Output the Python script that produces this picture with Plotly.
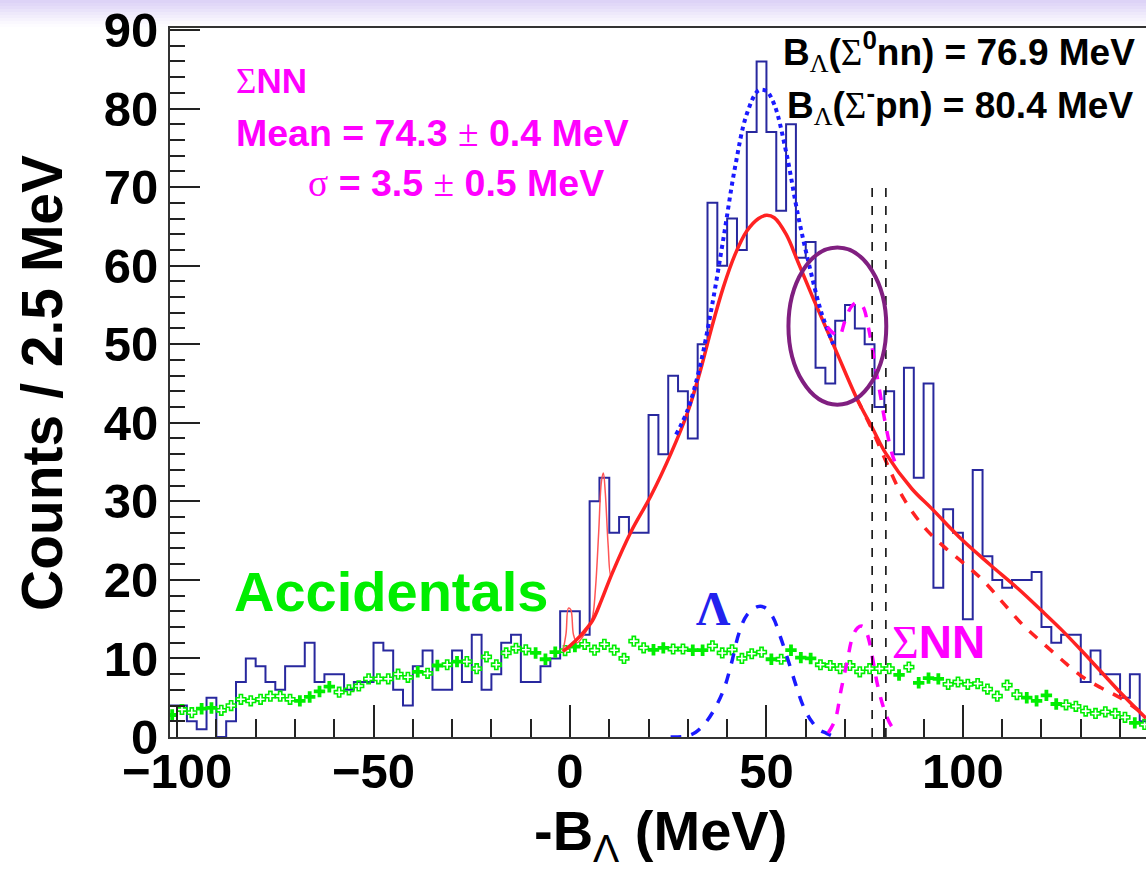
import plotly.graph_objects as go

# ---------------- data ----------------
BIN_LO = -102.5
BIN_W = 2.5
counts = [4, 4, 2, 1, 5, 0, 2, 7, 10, 9,
          7, 6, 9, 9, 12, 7, 8, 8, 6, 7,
          7, 12, 11, 6, 4, 9, 11, 6, 6, 11,
          7, 13, 6, 8, 12, 13, 7, 7, 9, 10,
          16, 16, 13, 30, 33, 26, 28, 26, 26, 41,
          36, 46, 44, 38, 50, 68, 60, 66, 62, 77,
          86, 77, 67, 78, 61, 63, 47, 45, 53, 55,
          52, 50, 42, 44, 36, 47, 33, 45, 19, 29,
          26, 15, 34, 23, 20, 19, 20, 20, 21, 14,
          12, 13, 13, 7, 11, 8, 8, 5, 8, 2]

acc_values = [2.8, 3.5, 3.1, 3.6, 3.7, 3.4, 4.0, 4.8, 4.6, 4.8,
              5.2, 5.2, 4.8, 4.6, 5.1, 5.8, 6.4, 5.7, 6.0, 6.5,
              7.4, 7.4, 7.4, 8.0, 7.6, 8.3, 8.1, 9.1, 9.2, 9.6,
              9.6, 8.7, 10.2, 9.2, 10.7, 11.3, 11.1, 10.7, 9.9, 10.8,
              11.0, 11.5, 11.8, 11.05, 11.8, 11.05, 10.0, 12.2, 11.35, 11.1,
              11.35, 11.2, 11.2, 11.05, 11.05, 11.6, 10.7, 11.1, 10.0, 10.6,
              10.8, 9.9, 9.9, 11.05, 10.1, 10.0, 9.2, 9.1, 8.7, 9.1,
              8.3, 8.7, 8.7, 8.7, 7.9, 8.9, 6.9, 7.5, 7.4, 6.7,
              7.0, 6.7, 6.8, 6.1, 5.2, 6.6, 5.4, 5.0, 4.6, 5.3,
              4.2, 4.1, 3.9, 3.3, 3.0, 3.2, 3.0, 2.5, 1.8, 1.6]
acc_kind = ("pooppooooo" "oooppppooo" "ooooopopop" "oooooooppp" "opooooooop"
            "pooppooooo" "opopppoooo" "oooopopppo" "oooooooppp" "pooooooopo")

red_x = [-1.8, 0, 2.5, 5.7, 8, 10.7, 15.6, 20.6, 25.7, 30, 33, 36, 39, 42, 45, 48, 50,
         52, 55, 58, 62, 67.5, 73, 77, 80.5, 87, 92, 100, 107, 114, 120, 125, 130, 135,
         140, 146.6]
red_y = [10.9, 11.6, 12.8, 14.8, 17.4, 20.8, 26.2, 30.7, 36.1, 41.4, 46.3, 52.0, 57.2,
         61.4, 64.4, 66.0, 66.4, 66.1, 64.0, 60.5, 55.7, 49.4, 43.1, 39.3, 36.0, 31.6,
         29.1, 25.0, 21.9, 18.9, 16.1, 13.7, 11.1, 8.4, 5.7, 2.4]

red_dash_x = [73, 77, 80.5, 85, 90, 95, 100, 105, 110, 115, 120, 125, 130, 135, 140, 145, 146.6]
red_dash_y = [43.1, 39.0, 35.0, 30.3, 26.8, 24.3, 22.2, 20.0, 17.2, 14.4, 12.1, 9.9, 7.8,
              6.3, 5.0, 3.3, 2.8]

spike_x = [-1.8, -1.0, -0.4, 0.2, 0.9, 1.8, 3.0, 4.5, 5.7, 6.5, 7.3, 8.0, 8.5, 9.0, 9.7,
           10.4, 11.2]
spike_y = [10.9, 13.2, 16.4, 16.2, 13.0, 12.0, 12.6, 13.8, 15.2, 19.0, 26.0, 32.5, 33.6,
           31.0, 24.5, 20.5, 21.4]

blue_fit_x = [27, 30, 33, 36, 39, 42, 45, 48, 50, 52, 55, 58, 61, 64, 67]
blue_fit_y = [38.5, 41.7, 47.0, 54.5, 63.3, 72.5, 79.3, 82.3, 82.2, 80.5, 74.5, 66.5,
              59.8, 54.0, 50.0]

lam_x = [25.6, 29.5, 32, 34.3, 36.5, 39.1, 41, 43, 45, 47.8, 49.5, 51.6, 53.5, 55.5, 57.5,
         59.4, 61.5, 63.5, 65.2, 67, 69]
lam_y = [0, 0.1, 0.6, 1.7, 3.3, 6.0, 9.2, 13.2, 15.5, 16.6, 16.5, 15.3, 12.8, 9.8, 6.6,
         3.9, 2.0, 0.9, 0.5, 0.1, 0]

snn_fit_x = [65.5, 67, 68.5, 70, 71.5, 73, 74.5, 76, 77.5, 79, 80.5, 82, 83.5]
snn_fit_y = [52.2, 51.4, 51.0, 53.0, 54.7, 55.3, 54.8, 52.0, 47.8, 43.5, 39.3, 36.0, 34.0]

snn_x = [65.7, 67.5, 69, 70.5, 71.9, 73.2, 74.4, 75.4, 76.3, 77.2, 78.2, 79.4, 80.6, 81.8, 83]
snn_y = [0.5, 2.2, 6.0, 9.5, 12.7, 13.9, 14.1, 13.4, 11.9, 9.5, 6.8, 4.4, 2.6, 1.4, 0.7]

thresholds = [76.9, 80.4]
threshold_top = 70

x_ticks = [-100, -50, 0, 50, 100]
y_ticks = [0, 10, 20, 30, 40, 50, 60, 70, 80, 90]

# ---------------- styles ----------------
SANS = "Liberation Sans"
SERIF = "Liberation Serif"
GREEN = "#00ee00"
RED = "#ff2222"
MAG = "#ff00ff"


def serif(t):
    return '<span style="font-family:%s;font-weight:normal">%s</span>' % (SERIF, t)


fig = go.Figure()

edges = [BIN_LO + BIN_W * i for i in range(len(counts) + 1)]
fig.add_trace(go.Scatter(x=edges, y=counts + [counts[-1]], mode="lines",
                         line=dict(color="#28289e", width=2, shape="hv"),
                         hoverinfo="skip", showlegend=False))

centers = [BIN_LO + BIN_W * (i + 0.5) for i in range(len(acc_values))]
px_ = [c for c, k in zip(centers, acc_kind) if k == "p"]
py_ = [v for v, k in zip(acc_values, acc_kind) if k == "p"]
ox_ = [c for c, k in zip(centers, acc_kind) if k == "o"]
oy_ = [v for v, k in zip(acc_values, acc_kind) if k == "o"]
fig.add_trace(go.Scatter(x=ox_, y=oy_, mode="markers",
                         marker=dict(symbol="cross-open", size=8, color=GREEN,
                                     line=dict(color=GREEN, width=1.6)),
                         showlegend=False))
fig.add_trace(go.Scatter(x=px_, y=py_, mode="markers",
                         marker=dict(symbol="cross", size=9.5, color=GREEN,
                                     line=dict(width=0)),
                         showlegend=False))

fig.add_trace(go.Scatter(x=red_dash_x, y=red_dash_y, mode="lines",
                         line=dict(color=RED, width=3.5, dash="dash", shape="spline"),
                         showlegend=False))
fig.add_trace(go.Scatter(x=spike_x, y=spike_y, mode="lines",
                         line=dict(color="#ff5555", width=1.5, shape="spline"),
                         showlegend=False))
fig.add_trace(go.Scatter(x=red_x, y=red_y, mode="lines",
                         line=dict(color=RED, width=3.5, shape="spline"),
                         showlegend=False))
fig.add_trace(go.Scatter(x=blue_fit_x, y=blue_fit_y, mode="lines",
                         line=dict(color="#1a1aff", width=4, dash="dot", shape="spline"),
                         showlegend=False))
fig.add_trace(go.Scatter(x=lam_x, y=lam_y, mode="lines",
                         line=dict(color="#1a1aff", width=3.5, dash="dash", shape="spline"),
                         showlegend=False))
fig.add_trace(go.Scatter(x=snn_fit_x, y=snn_fit_y, mode="lines",
                         line=dict(color=MAG, width=3.5, dash="dash", shape="spline"),
                         showlegend=False))
fig.add_trace(go.Scatter(x=snn_x, y=snn_y, mode="lines",
                         line=dict(color=MAG, width=3.5, dash="dash", shape="spline"),
                         showlegend=False))
for t in thresholds:
    fig.add_trace(go.Scatter(x=[t, t], y=[0, threshold_top], mode="lines",
                             line=dict(color="black", width=1.5, dash="dash"),
                             showlegend=False))

shapes = []
# header gradient of the slide
band_cols = ["#ddd3f7", "#e1d8f8", "#e5ddf9", "#e9e3fa", "#eee9fb",
             "#f2eefc", "#f6f3fd", "#faf8fe", "#fdfcff"]
H = 709.0
for i, c in enumerate(band_cols):
    p0 = i * 3
    p1 = p0 + 3
    shapes.append(dict(type="rect", xref="paper", yref="paper",
                       x0=-170 / 976.0, x1=1.0, y0=1 + (28 - p1) / H, y1=1 + (28 - p0) / H,
                       fillcolor=c, line=dict(width=0), layer="below"))
shapes.append(dict(type="circle", xref="x", yref="y", x0=55.6, x1=80.5, y0=42.3, y1=62.3,
                   line=dict(color="#801f80", width=4)))

annotations = [
    dict(x=-85.6, y=83.5, xanchor="left", yanchor="middle", showarrow=False,
         text=serif("Σ") + "<b>NN</b>", font=dict(size=35, color=MAG)),
    dict(x=-85.6, y=76.9, xanchor="left", yanchor="middle", showarrow=False,
         text="<b>Mean = 74.3 </b>" + serif("±") + "<b> 0.4 MeV</b>",
         font=dict(size=37.5, color=MAG)),
    dict(x=-67.2, y=70.5, xanchor="left", yanchor="middle", showarrow=False,
         text=serif("σ") + "<b> = 3.5 </b>" + serif("±") + "<b> 0.5 MeV</b>",
         font=dict(size=37.5, color=MAG)),
    dict(x=53.8, y=87.2, xanchor="left", yanchor="middle", showarrow=False,
         text="<b>B</b><sub>" + serif("Λ") + "</sub><b>(</b>" + serif("Σ") +
              "<sup><b>0</b></sup><b>nn) = 76.9 MeV</b>",
         font=dict(size=37, color="black")),
    dict(x=54.6, y=80.5, xanchor="left", yanchor="middle", showarrow=False,
         text="<b>B</b><sub>" + serif("Λ") + "</sub><b>(</b>" + serif("Σ") +
              "<sup><b>-</b></sup><b>pn) = 80.4 MeV</b>",
         font=dict(size=37, color="black")),
    dict(x=-86.0, y=18.5, xanchor="left", yanchor="middle", showarrow=False,
         text="<b>Accidentals</b>", font=dict(size=56, color=GREEN)),
    dict(x=36.4, y=16.4, xanchor="center", yanchor="middle", showarrow=False,
         text="<b>Λ</b>", font=dict(size=48, color="#2222ee", family=SERIF)),
    dict(x=81.4, y=12.1, xanchor="left", yanchor="middle", showarrow=False,
         text=serif("Σ") + "<b>NN</b>", font=dict(size=46, color=MAG)),
    dict(x=(42 - 170) / 976.0, y=(737 - 383) / H, xref="paper", yref="paper",
         xanchor="center", yanchor="middle", textangle=-90, showarrow=False,
         text="<b>Counts / 2.5 MeV</b>", font=dict(size=57, color="black")),
    dict(x=(660 - 170) / 976.0, y=(737 - 797) / H, xref="paper", yref="paper",
         xanchor="center", yanchor="top", showarrow=False,
         text="<b>-B</b><sub>Λ</sub><b> (MeV)</b>", font=dict(size=56, color="black")),
]

fig.update_layout(
    width=1146, height=871,
    margin=dict(l=170, r=0, t=28, b=134),
    paper_bgcolor="white", plot_bgcolor="white",
    font=dict(family=SANS, color="black"),
    shapes=shapes, annotations=annotations,
    showlegend=False,
)
fig.update_xaxes(range=[-101.8, 146.6], tickvals=x_ticks,
                 ticktext=["\u2212100", "\u221250", "0", "50", "100"],
                 ticks="inside", ticklen=32, tickwidth=1.5, tickcolor="#222",
                 ticklabelstandoff=-10,
                 minor=dict(ticks="inside", ticklen=18, dtick=10, tick0=0,
                            tickwidth=1.5, tickcolor="#222"),
                 showline=True, linecolor="#333", linewidth=2, mirror=True,
                 showgrid=False, zeroline=False,
                 tickfont=dict(size=49, family=SANS, weight="bold", color="black"))
fig.update_yaxes(range=[0, 90.25], tickvals=y_ticks,
                 ticks="inside", ticklen=30, tickwidth=1.5, tickcolor="#222",
                 minor=dict(ticks="inside", ticklen=15, dtick=2, tick0=0,
                            tickwidth=1.5, tickcolor="#222"),
                 showline=True, linecolor="#333", linewidth=2, mirror=False,
                 showgrid=False, zeroline=False,
                 tickfont=dict(size=49, family=SANS, weight="bold", color="black"))

fig.write_html("out.html")
